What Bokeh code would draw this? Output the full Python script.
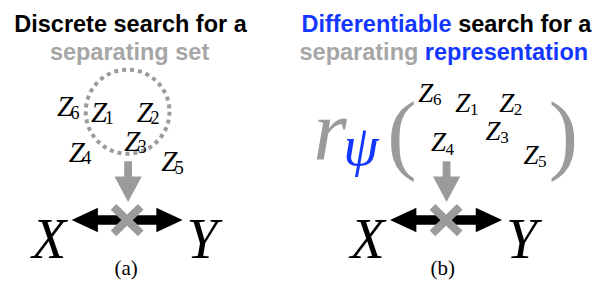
from bokeh.plotting import figure
from bokeh.models import Range1d, ColumnDataSource
from bokeh.core.properties import value
from bokeh.embed import file_html
from bokeh.resources import INLINE

# ---------------- data ----------------
title_a_line1 = "Discrete search for a"
title_a_line2 = "separating set"
title_b_word1 = "Differentiable"
title_b_rest1 = "search for a"
title_b_word2 = "separating"
title_b_rest2 = "representation"
z_letters = ["Z", "Z", "Z", "Z", "Z", "Z"]
z_subs = ["6", "1", "2", "3", "4", "5"]
captions = ["(a)", "(b)"]
var_x = "X"
var_y = "Y"
rep_fn = "r"
rep_param = "\u03c8"

# ---------------- layout (reference pixel space 614x298, y downward) ----------------
GRAY = "#9b9b9b"
TGRAY = "#a6a6a6"
BLUE = "#1437ff"
SANS = "Liberation Sans"
SERIF = "Liberation Serif"
XS = 598 / 614  # screen px per layout unit (horizontal)
TS = 23.5       # title font size

zpos_a = [(58, 112), (93, 118), (140, 118), (127, 148), (70, 160), (165, 170)]
zpos_b = [(429, 98), (467, 108), (512, 108), (498, 138), (442, 150), (537, 163)]

p = figure(width=598, height=282, x_range=Range1d(0, 614), y_range=Range1d(298, 0),
           output_backend="svg", toolbar_location=None, min_border=0)
p.axis.visible = False
p.grid.visible = False
p.outline_line_color = None
p.background_fill_color = "white"
p.border_fill_color = "white"


def txt(x, y, t, size, color, font=SANS, style="normal", align="left"):
    p.text(x=[x], y=[y], text=[t], text_font=value(font), text_font_size=value(f"{size}px"),
           text_font_style=style, text_color=color, text_align=align,
           text_baseline="alphabetic")


# Arial/Liberation Sans Bold advance widths (em) of the leading words + space
w_differentiable_sp = 6.668
w_separating_sp = 5.335

# titles
txt(133.5, 25, title_a_line1, TS, "black", style="bold", align="center")
txt(132.5, 54, title_a_line2, TS, TGRAY, style="bold", align="center")
txt(309, 25, title_b_word1, TS, BLUE, style="bold", align="left")
txt(309 + w_differentiable_sp * TS / XS, 25, title_b_rest1, TS, "black", style="bold", align="left")
txt(307, 54, title_b_word2, TS, TGRAY, style="bold", align="left")
txt(307 + w_separating_sp * TS / XS, 54, title_b_rest2, TS, BLUE, style="bold", align="left")

# dotted circle (panel a)
p.ellipse(x=[130.5], y=[117.5], width=[86], height=[89], fill_color=None,
          line_color=GRAY, line_width=4, line_dash="4 4")


def zlabels(pos, zsize, subsize, subdx, subdy):
    zs = ColumnDataSource(dict(x=[q[0] for q in pos], y=[q[1] for q in pos], t=z_letters))
    ss = ColumnDataSource(dict(x=[q[0] + subdx for q in pos], y=[q[1] + subdy for q in pos], t=z_subs))
    p.text(x="x", y="y", text="t", source=zs, text_font=value(SERIF),
           text_font_size=value(f"{zsize}px"), text_font_style="italic", text_color="black",
           text_baseline="alphabetic", text_align="left")
    p.text(x="x", y="y", text="t", source=ss, text_font=value(SERIF),
           text_font_size=value(f"{subsize}px"), text_color="black",
           text_baseline="alphabetic", text_align="left")


zlabels(zpos_a, 29, 18, 14, 6)
zlabels(zpos_b, 27, 17, 15, 7)

# r_psi( ... )
txt(321, 138, rep_fn, 86, GRAY, font=SERIF, style="italic")
txt(352, 153, rep_param, 57, BLUE, font=SERIF, style="italic")
txt(397, 141, "(", 88, GRAY, font=SERIF)
txt(563, 141, ")", 88, GRAY, font=SERIF)


def diagram(cx, hy, ltip, rtip, xcx, ycx):
    # down arrow
    p.patch(x=[cx - 4, cx + 4, cx + 4, cx + 14, cx, cx - 14, cx - 4],
            y=[170, 170, 186, 186, 213, 186, 186], fill_color=GRAY, line_color=None)
    # double-headed black arrow
    hl, hh, st = 27, 13, 5
    p.patch(x=[ltip, ltip + hl, ltip + hl, rtip - hl, rtip - hl, rtip, rtip - hl, rtip - hl, ltip + hl, ltip + hl],
            y=[hy, hy - hh, hy - st, hy - st, hy - hh, hy, hy + hh, hy + st, hy + st, hy + hh],
            fill_color="black", line_color=None)
    # gray cross
    c = (ltip + rtip) / 2
    p.segment(x0=[c - 14, c - 14], y0=[hy - 14, hy + 14], x1=[c + 14, c + 14], y1=[hy + 14, hy - 14],
              line_color=GRAY, line_width=8, line_cap="butt")
    txt(xcx, 252, var_x, 56, "black", font=SERIF, style="italic", align="center")
    txt(ycx, 252, var_y, 56, "black", font=SERIF, style="italic", align="center")


diagram(131, 232, 73, 187, 50, 207)
diagram(458, 232, 400, 515, 377, 535)

txt(129, 283, captions[0], 21, "black", font=SERIF, align="center")
txt(454, 283, captions[1], 21, "black", font=SERIF, align="center")

open("out.html", "w").write(file_html(p, INLINE))
